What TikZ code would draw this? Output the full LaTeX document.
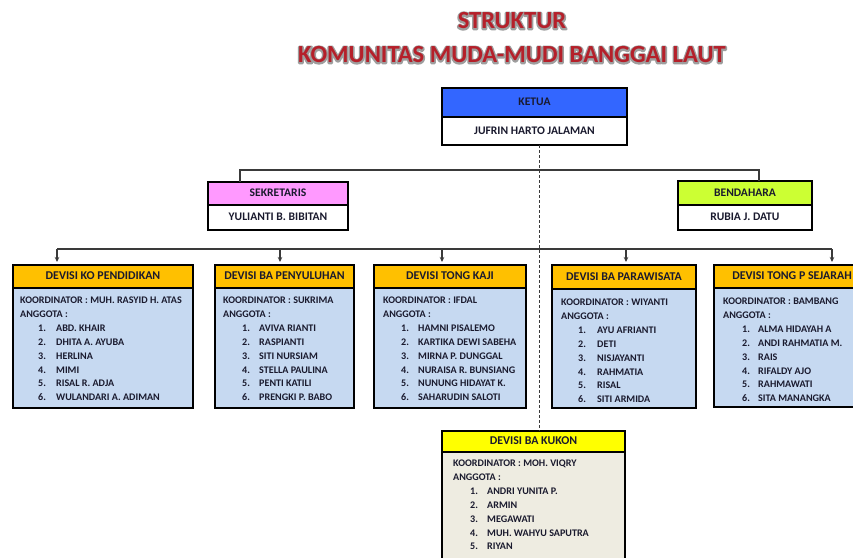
\documentclass[tikz,border=0pt]{standalone}
\usepackage{fontspec}
\setmainfont{Carlito-Regular.ttf}[BoldFont=Carlito-Bold.ttf]
\usetikzlibrary{arrows.meta}
\definecolor{hdrorange}{HTML}{FFC000}
\definecolor{bodyblue}{HTML}{C6D9F1}
\definecolor{ketblue}{HTML}{3366FF}
\definecolor{sekpink}{HTML}{FF99FF}
\definecolor{benlime}{HTML}{CCFF33}
\definecolor{kukyellow}{HTML}{FFFF00}
\definecolor{kukbody}{HTML}{EEECE1}
\definecolor{titlered}{HTML}{B5202A}
\definecolor{txtdark}{HTML}{1A1A2E}
\definecolor{linegray}{HTML}{3A3A3A}
\newcommand\glowtext[1]{\rlap{\special{pdf:literal direct 0.62 0.62 0.62 RG 3 w 1 j 1 Tr}#1\special{pdf:literal direct 0 Tr}}#1}
\tikzset{
  boxshape/.style={draw=black, line width=1.6pt, anchor=north west, inner sep=0pt, outer sep=0pt},
  hdrtxt/.style={font=\bfseries\fontsize{11.9}{13}\selectfont, text=txtdark, text height=0.64em, text depth=0pt},
  toptxt/.style={font=\bfseries\fontsize{11.6}{13}\selectfont, text=txtdark, text height=0.64em, text depth=0pt},
  bodytxt/.style={font=\bfseries\fontsize{10.1}{11}\selectfont, text=txtdark, anchor=base west, inner sep=0pt},
  conn/.style={draw=linegray, line width=1.1pt},
  arr/.style={conn, -{Stealth[length=5pt,width=4.5pt]}, shorten >=3pt},
  titletxt/.style={font=\bfseries\fontsize{24.6}{27}\selectfont, inner sep=0pt, text=titlered},
}
\newcommand\divbody[7]{%
  \node[bodytxt] (#1k) at (#2,#5+3.3) {KOORDINATOR : #6};
  \node[bodytxt] (#1a) at (#2,#5+17.3) {ANGGOTA :};
  \foreach \nm [count=\i] in {#7} {
    \node[bodytxt] (#1n\i) at (#3,#5+31.3+13.9*\i-13.9) {\i.};
    \node[bodytxt] (#1m\i) at (#4,#5+31.3+13.9*\i-13.9) {\nm};
  }%
}
\begin{document}
\begin{tikzpicture}[x=1pt,y=-1pt]
\useasboundingbox (0,0) rectangle (853,557);
\fill[white] (0,0) rectangle (853,557);
\clip (0,0) rectangle (853,557);

% title with grey outline
\node[titletxt] (t1) at (512,21) {\glowtext{STRUKTUR}};
\node[titletxt] (t2) at (512,55) {\glowtext{KOMUNITAS MUDA-MUDI BANGGAI LAUT}};

% spine coordinates
\coordinate (spine) at (539,0);
\coordinate (sj) at (240,170);
\coordinate (bj) at (759,170);

% Ketua
\node[boxshape, fill=ketblue, minimum width=185pt, minimum height=29pt, toptxt] (keth) at (442,88) {KETUA};
\node[boxshape, fill=white, minimum width=185pt, minimum height=28pt, toptxt] (ketb) at (442,117) {JUFRIN HARTO JALAMAN};

% Sekretaris
\node[boxshape, fill=sekpink, minimum width=140pt, minimum height=23pt, toptxt] (sekh) at (208,182) {SEKRETARIS};
\node[boxshape, fill=white, minimum width=140pt, minimum height=25pt, toptxt] (sekb) at (208,205) {YULIANTI B. BIBITAN};

% Bendahara
\node[boxshape, fill=benlime, minimum width=134pt, minimum height=24pt, toptxt] (benh) at (678,181) {BENDAHARA};
\node[boxshape, fill=white, minimum width=134pt, minimum height=25pt, toptxt] (benb) at (678,205) {RUBIA J. DATU};

% Divisions
\node[boxshape, fill=bodyblue, minimum width=180pt, minimum height=120pt] (d1b) at (13,288) {};
\node[boxshape, fill=hdrorange, minimum width=180pt, minimum height=23pt, hdrtxt] (d1h) at (13,265) {DEVISI KO PENDIDIKAN};
\node[boxshape, fill=bodyblue, minimum width=139pt, minimum height=120pt] (d2b) at (215,288) {};
\node[boxshape, fill=hdrorange, minimum width=139pt, minimum height=23pt, hdrtxt] (d2h) at (215,265) {DEVISI BA PENYULUHAN};
\node[boxshape, fill=bodyblue, minimum width=152pt, minimum height=120pt] (d3b) at (374,288) {};
\node[boxshape, fill=hdrorange, minimum width=152pt, minimum height=23pt, hdrtxt] (d3h) at (374,265) {DEVISI TONG KAJI};
\node[boxshape, fill=bodyblue, minimum width=144pt, minimum height=119pt] (d4b) at (552,289) {};
\node[boxshape, fill=hdrorange, minimum width=144pt, minimum height=24pt, hdrtxt] (d4h) at (552,265) {DEVISI BA PARAWISATA};
\node[boxshape, fill=bodyblue, minimum width=156pt, minimum height=119pt] (d5b) at (714,288) {};
\node[boxshape, fill=hdrorange, minimum width=156pt, minimum height=23pt, hdrtxt] (d5h) at (714,265) {DEVISI TONG P SEJARAH};
\node[boxshape, fill=kukbody, minimum width=183pt, minimum height=130pt] (d6b) at (442,452) {};
\node[boxshape, fill=kukyellow, minimum width=183pt, minimum height=21pt, hdrtxt] (d6h) at (442,431) {DEVISI BA KUKON};

% bodies
\divbody{p1}{20}{38}{56}{300}{MUH. RASYID H. ATAS}{ABD. KHAIR,DHITA A. AYUBA,HERLINA,MIMI,RISAL R. ADJA,WULANDARI A. ADIMAN}
\divbody{p2}{223}{242}{259}{300}{SUKRIMA}{AVIVA RIANTI,RASPIANTI,SITI NURSIAM,STELLA PAULINA,PENTI KATILI,PRENGKI P. BABO}
\divbody{p3}{383}{401}{418}{300}{IFDAL}{HAMNI PISALEMO,KARTIKA DEWI SABEHA,MIRNA P. DUNGGAL,NURAISA R. BUNSIANG,NUNUNG HIDAYAT K.,SAHARUDIN SALOTI}
\divbody{p4}{561}{578}{597}{302}{WIYANTI}{AYU AFRIANTI,DETI,NISJAYANTI,RAHMATIA,RISAL,SITI ARMIDA}
\divbody{p5}{723}{742}{758}{301}{BAMBANG}{ALMA HIDAYAH A,ANDI RAHMATIA M.,RAIS,RIFALDY AJO,RAHMAWATI,SITA MANANGKA}
\divbody{p6}{453}{470}{487}{463}{MOH. VIQRY}{ANDRI YUNITA P.,ARMIN,MEGAWATI,MUH. WAHYU SAPUTRA,RIYAN}

% connectors
\draw[conn, dashed, dash pattern=on 3pt off 2pt, line width=0.9pt] (ketb.south -| spine) -- (d6h.north -| spine);
\draw[conn] (sekh.north -| sj) -- (sj) -- (bj) -- (benh.north -| bj);
\coordinate (a1) at (57,249);
\coordinate (a2) at (280,249);
\coordinate (a3) at (442,249);
\coordinate (a4) at (626,249);
\coordinate (a5) at (832,249);
\draw[conn] (a1) -- (a5);
\draw[arr] (a1) -- (a1 |- d1h.north);
\draw[arr] (a2) -- (a2 |- d2h.north);
\draw[arr] (a3) -- (a3 |- d3h.north);
\draw[arr] (a4) -- (a4 |- d4h.north);
\draw[arr] (a5) -- (a5 |- d5h.north);
\end{tikzpicture}
\end{document}
